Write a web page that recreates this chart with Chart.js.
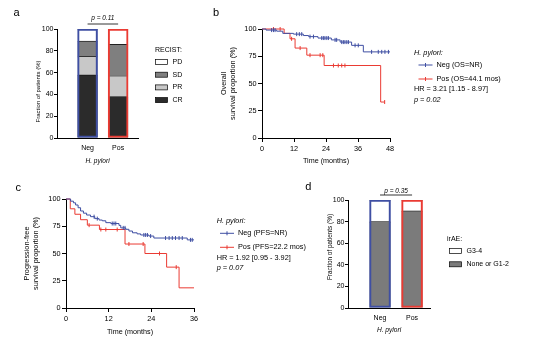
<!DOCTYPE html>
<html>

<head>
  <meta charset="utf-8">
  <title>H. pylori status and immunotherapy outcome</title>
  <script src="https://cdn.jsdelivr.net/npm/chart.js"></script>
  <style>
    body { margin: 0; background: #fff; }
    #figure { position: relative; width: 539px; height: 340px; }
    #figure canvas { position: absolute; left: 0; top: 0; }
  </style>
</head>

<body>
  <div id="figure">
    <canvas id="recist" width="539" height="340"></canvas>
    <canvas id="os" width="539" height="340"></canvas>
    <canvas id="pfs" width="539" height="340"></canvas>
    <canvas id="irae" width="539" height="340"></canvas>
  </div>
  <script>
    // H. pylori groups, shared by the two bar panels
    const groups = ['Neg', 'Pos'];
    const groupColors = ['#3f4fa3', '#ea3b33'];

    // best response by RECIST, % of patients (Neg, Pos)
    const recistCR = [58, 38];
    const recistPR = [17, 19];
    const recistSD = [14, 29];
    const recistPD = [11, 14];

    // immune-related adverse events, % of patients (Neg, Pos)
    const iraeLow = [80, 90];
    const iraeHigh = [20, 10];

    // overall survival: step times (months) and % surviving, plus censor times
    const osNegTime = [0, 1.5, 5.5, 7.8, 11.8, 15.5, 17.5, 21, 26, 29.3, 33.6, 38, 48];
    const osNegSurv = [100, 99, 98, 96, 95.3, 94, 93, 91.7, 90, 88, 85, 79, 79];
    const osNegCens = [3.6, 4.3, 4.9, 13, 14, 14.9, 18, 19.3, 22.4, 23, 23.6, 24.3, 24.9, 27.4, 28, 29.9, 30.5, 31.1, 31.8, 32.4, 34.9, 36.1, 41.1, 43.6, 44.9, 46.1, 47.4];
    const osPosTime = [0, 8.3, 10.5, 12.4, 16.8, 23.3, 44.5, 46];
    const osPosSurv = [100, 96, 91, 82.5, 76, 66.5, 33, 33];
    const osPosCens = [4.3, 6.8, 11.1, 14.3, 18, 21.8, 22.8, 26.8, 28.6, 29.9, 31.1, 46];

    // progression-free survival
    const pfsNegTime = [0, 1.3, 2.1, 2.7, 3.4, 4.1, 4.9, 5.8, 6.9, 8.1, 9.3, 10.2, 11.2, 12.6, 14.9, 15.4, 16.8, 17.7, 18.7, 20, 21, 23.3, 24.7, 34.1, 36];
    const pfsNegSurv = [100, 98, 96.5, 94.5, 92, 89, 87, 85.3, 83.8, 82, 80.7, 80, 78.3, 77.5, 75.8, 73.5, 72.2, 70.6, 69, 68, 67, 66, 64.2, 62.5, 62.5];
    const pfsNegCens = [7.9, 8.8, 13, 13.5, 14, 16.1, 16.6, 21.9, 22.4, 22.9, 23.8, 28, 29, 29.9, 30.8, 31.8, 32.7, 35, 35.5];
    const pfsPosTime = [0, 1.2, 2.5, 4.1, 6, 9.4, 16.6, 22.2, 28.3, 31.8, 36];
    const pfsPosSurv = [100, 91, 86, 81, 76, 72, 58.7, 50, 37.5, 18.5, 18.5];
    const pfsPosCens = [6.5, 9.8, 11.2, 14.4, 17.7, 21.7, 26.3, 31];

    const monthTicks = 12;
    const W = 539, H = 340;
    const FAMILY = '"Liberation Sans", Arial, Helvetica, sans-serif';

    Chart.defaults.font.family = FAMILY;
    Chart.defaults.color = '#000';

    // padding that puts the plot area at [left, top, right, bottom] on the page
    function place(area, yWidth, xHeight) {
      return { left: area[0] - yWidth, top: area[1], right: W - area[2], bottom: H - area[3] - xHeight };
    }

    function write(ctx, str, x, y, size, opts = {}) {
      ctx.save();
      ctx.font = (opts.italic ? 'italic ' : '') + size + 'px ' + FAMILY;
      ctx.fillStyle = '#000';
      ctx.textAlign = opts.align || 'left';
      ctx.textBaseline = 'middle';
      ctx.translate(x, y);
      if (opts.vertical) ctx.rotate(-Math.PI / 2);
      ctx.fillText(str, 0, 0);
      ctx.restore();
    }

    function rule(ctx, x1, y1, x2, y2, color, width) {
      ctx.save();
      ctx.strokeStyle = color;
      ctx.lineWidth = width;
      ctx.beginPath();
      ctx.moveTo(x1, y1);
      ctx.lineTo(x2, y2);
      ctx.stroke();
      ctx.restore();
    }

    function survivalAt(times, surv, t) {
      let s = surv[0];
      for (let i = 0; i < times.length; i++) if (times[i] <= t) s = surv[i];
      return s;
    }

    // ---------- stacked bar panels ----------
    function barChart(id, parts, xMax, barWidth, area, yWidth, xHeight, notes) {
      const totals = groups.map((g, i) => parts.reduce((sum, p) => sum + p.values[i], 0));
      const datasets = [{
        // coloured frame round each whole bar
        label: 'frame', stack: 'frame', order: 0, grouped: false,
        data: totals.map((v, i) => ({ x: i + 1, y: v })),
        backgroundColor: 'rgba(0,0,0,0)', borderColor: groupColors, borderWidth: 1.4,
        borderSkipped: false, maxBarThickness: barWidth, barPercentage: 1, categoryPercentage: 1
      }].concat(parts.map(p => ({
        label: p.label, stack: 'parts', order: 1, grouped: false,
        data: p.values.map((v, i) => ({ x: i + 1, y: v })),
        backgroundColor: p.color, borderColor: '#000',
        borderWidth: { top: 0.8, right: 0, bottom: 0, left: 0 }, borderSkipped: false,
        maxBarThickness: barWidth, barPercentage: 1, categoryPercentage: 1
      })));

      return new Chart(document.getElementById(id), {
        type: 'bar',
        data: { datasets },
        options: {
          responsive: false,
          animation: false,
          layout: { padding: place(area, yWidth, xHeight) },
          plugins: { legend: { display: false }, tooltip: { enabled: false } },
          scales: {
            x: {
              type: 'linear', min: 0, max: xMax, offset: false,
              afterBuildTicks: s => { s.ticks = groups.map((g, i) => ({ value: i + 1 })); },
              ticks: { callback: v => groups[v - 1], font: { size: 7 }, padding: 6, color: '#000', maxRotation: 0, autoSkip: false },
              grid: { display: false, drawTicks: false },
              border: { color: '#000', width: 1 },
              title: { display: true, text: 'H. pylori', font: { size: 6.6, style: 'italic' }, padding: 0, color: '#000' },
              afterFit: s => { s.height = xHeight; }
            },
            y: {
              stacked: true, min: 0, max: 100,
              ticks: { stepSize: 20, font: { size: 7 }, padding: 0.5, color: '#000' },
              grid: { drawOnChartArea: false, tickLength: 3, color: '#000' },
              border: { color: '#000', width: 1 },
              afterFit: s => { s.width = yWidth; }
            }
          }
        },
        plugins: [{ id: 'notes', afterDraw: chart => notes(chart, chart.ctx) }]
      });
    }

    // p-value over a bracket joining the two bar centres
    function bracket(chart, text, yText, yLine) {
      const x1 = chart.scales.x.getPixelForValue(1);
      const x2 = chart.scales.x.getPixelForValue(2);
      rule(chart.ctx, x1, yLine, x2, yLine, '#000', 0.8);
      write(chart.ctx, text, (x1 + x2) / 2, yText, 6.5, { italic: true, align: 'center' });
    }

    // legend boxes, top row = top segment
    function barLegend(chart, title, tx, ty, bx, firstY, step) {
      const ctx = chart.ctx;
      write(ctx, title, tx, ty, 7);
      const parts = chart.data.datasets.filter(d => d.stack === 'parts').reverse();
      parts.forEach((d, i) => {
        const y = firstY + step * i;
        ctx.save();
        ctx.fillStyle = d.backgroundColor;
        ctx.fillRect(bx, y - 2.5, 12, 5);
        ctx.strokeStyle = '#000';
        ctx.lineWidth = 0.7;
        ctx.strokeRect(bx, y - 2.5, 12, 5);
        ctx.restore();
        write(ctx, d.label, bx + 17, y, 7);
      });
    }

    barChart('recist', [
      { label: 'CR', values: recistCR, color: '#2b2b2b' },
      { label: 'PR', values: recistPR, color: '#c8c8c8' },
      { label: 'SD', values: recistSD, color: '#7f7f7f' },
      { label: 'PD', values: recistPD, color: '#ffffff' }
    ], 2.65, 20, [57, 29, 138, 138], 22.8, 27.6, (chart, ctx) => {
      write(ctx, 'a', 16.5, 13, 11, { align: 'center' });
      write(ctx, 'Fraction of patients (%)', 38, 91.5, 6, { align: 'center', vertical: true });
      bracket(chart, 'p = 0.11', 18.5, 24);
      barLegend(chart, 'RECIST:', 155, 50, 155.5, 62, 12.7);
    });

    barChart('irae', [
      { label: 'None or G1-2', values: iraeLow, color: '#7b7b7b' },
      { label: 'G3-4', values: iraeHigh, color: '#ffffff' }
    ], 2.56, 21, [348, 200, 430, 308], 21.5, 25.9, (chart, ctx) => {
      write(ctx, 'd', 308.3, 187, 11, { align: 'center' });
      write(ctx, 'Fraction of patients (%)', 330.3, 247, 6.4, { align: 'center', vertical: true });
      bracket(chart, 'p = 0.35', 190.7, 195);
      barLegend(chart, 'irAE:', 447, 239.3, 449.5, 251, 13.3);
    });

    // ---------- Kaplan-Meier panels ----------
    function kmChart(id, curves, xMax, area, yWidth, xHeight, yTitle, notes) {
      const datasets = [];
      curves.forEach(c => {
        datasets.push({
          label: c.label, kind: 'curve',
          data: c.times.map((t, i) => ({ x: t, y: c.surv[i] })),
          borderColor: c.color, borderWidth: 1, stepped: 'before',
          pointRadius: 0, pointHitRadius: 0, fill: false, clip: 4
        });
        datasets.push({
          label: c.label + ' (censored)', kind: 'censor',
          data: c.cens.map(t => ({ x: t, y: survivalAt(c.times, c.surv, t) })),
          showLine: false, pointStyle: 'line', pointRotation: 90, pointRadius: 2,
          pointBorderWidth: 1, pointBorderColor: c.color, borderColor: c.color, clip: 4
        });
      });

      return new Chart(document.getElementById(id), {
        type: 'line',
        data: { datasets },
        options: {
          responsive: false,
          animation: false,
          layout: { padding: place(area, yWidth, xHeight) },
          plugins: { legend: { display: false }, tooltip: { enabled: false } },
          scales: {
            x: {
              type: 'linear', min: 0, max: xMax, offset: false,
              ticks: { stepSize: monthTicks, font: { size: 7.3 }, padding: 2.5, color: '#000', maxRotation: 0 },
              grid: { drawOnChartArea: false, tickLength: 4, color: '#000' },
              border: { color: '#000', width: 1 },
              title: { display: true, text: 'Time (months)', font: { size: 7.2 }, padding: 0, color: '#000' },
              afterFit: s => { s.height = xHeight; }
            },
            y: {
              min: 0, max: 100,
              ticks: { stepSize: 25, font: { size: 7.3 }, padding: 1.5, color: '#000' },
              grid: { drawOnChartArea: false, tickLength: 4, color: '#000' },
              border: { color: '#000', width: 1 },
              title: { display: true, text: yTitle, font: { size: 7.3, lineHeight: 1.3 }, padding: 0, color: '#000' },
              afterFit: s => { s.width = yWidth; }
            }
          }
        },
        plugins: [{ id: 'notes', afterDraw: chart => notes(chart, chart.ctx) }]
      });
    }

    // legend: line sample with a censor tick, then hazard ratio and p
    function kmLegend(chart, x, titleY, lineX, rowY, step, hr, p) {
      const ctx = chart.ctx;
      write(ctx, 'H. pylori:', x, titleY, 7.3, { italic: true });
      chart.data.datasets.filter(d => d.kind === 'curve').forEach((d, i) => {
        const y = rowY + step * i;
        rule(ctx, lineX, y, lineX + 14, y, d.borderColor, 1);
        rule(ctx, lineX + 7, y - 2, lineX + 7, y + 2, d.borderColor, 1);
        write(ctx, d.label, lineX + 18, y, 7.3);
      });
      const after = rowY + step * 2 - 3.7;
      write(ctx, hr, x, after, 7.3);
      write(ctx, p, x, after + 10.3, 7.3, { italic: true });
    }

    kmChart('os', [
      { label: 'Neg (OS=NR)', times: osNegTime, surv: osNegSurv, cens: osNegCens, color: groupColors[0] },
      { label: 'Pos (OS=44.1 mos)', times: osPosTime, surv: osPosSurv, cens: osPosCens, color: groupColors[1] }
    ], 48, [262, 29, 390, 138], 42.75, 27.3, ['Overall', 'survival proportion (%)'], (chart, ctx) => {
      write(ctx, 'b', 216, 13, 11, { align: 'center' });
      kmLegend(chart, 414, 52.5, 418.5, 65, 14, 'HR = 3.21 [1.15 - 8.97]', 'p = 0.02');
    });

    kmChart('pfs', [
      { label: 'Neg (PFS=NR)', times: pfsNegTime, surv: pfsNegSurv, cens: pfsNegCens, color: groupColors[0] },
      { label: 'Pos (PFS=22.2 mos)', times: pfsPosTime, surv: pfsPosSurv, cens: pfsPosCens, color: groupColors[1] }
    ], 36, [66, 199, 194, 308], 43.75, 28.3, ['Progression-free', 'survival proportion (%)'], (chart, ctx) => {
      write(ctx, 'c', 18.3, 188.3, 11, { align: 'center' });
      kmLegend(chart, 216.7, 220.7, 220, 233.3, 14, 'HR = 1.92 [0.95 - 3.92]', 'p = 0.07');
    });
  </script>
</body>

</html>
